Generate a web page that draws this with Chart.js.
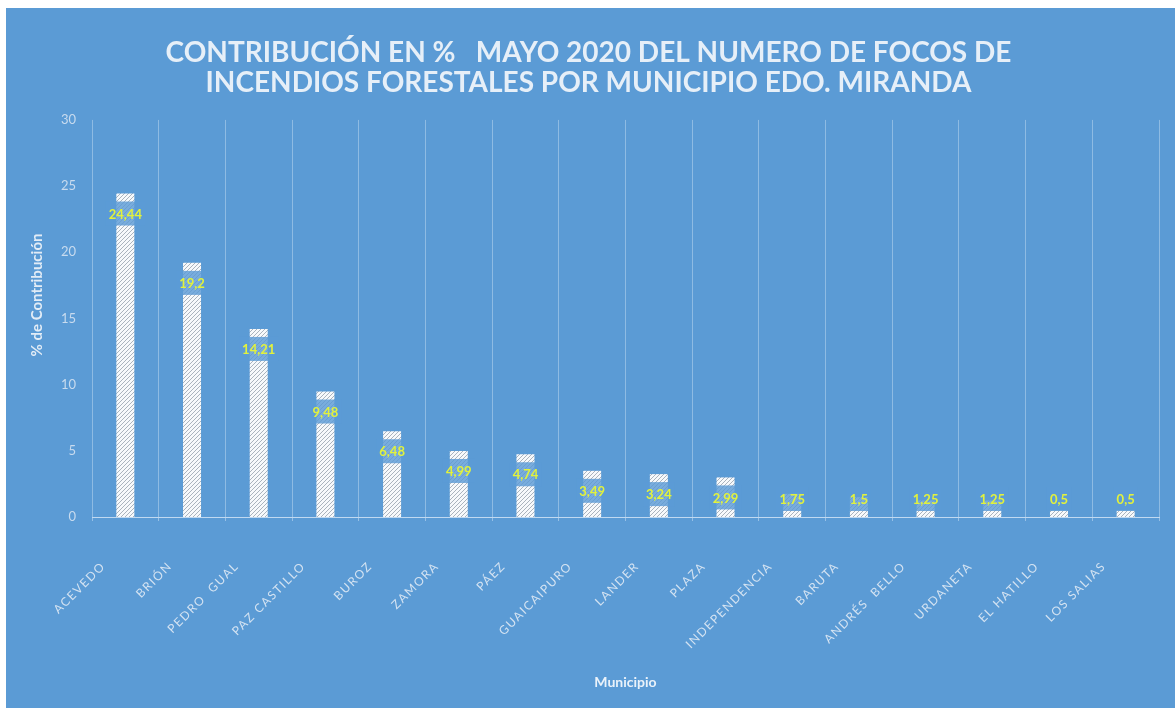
<!DOCTYPE html>
<html><head><meta charset="utf-8">
<script src="https://cdn.jsdelivr.net/npm/chart.js@4"></script>
<style>
html,body{margin:0;padding:0;background:#fff;width:1175px;height:708px;overflow:hidden}
#wrap{position:absolute;left:6px;top:8px;width:1169px;height:700px;background:#5B9BD5}
canvas{display:block}
</style></head><body>
<div id="wrap"><canvas id="c" width="1169" height="700"></canvas></div>
<script>
const municipios = ['ACEVEDO','BRIÓN','PEDRO  GUAL','PAZ CASTILLO','BUROZ','ZAMORA','PÁEZ','GUAICAIPURO','LANDER','PLAZA','INDEPENDENCIA','BARUTA','ANDRÉS  BELLO','URDANETA','EL HATILLO','LOS SALIAS'];
const contribucion = [24.44,19.2,14.21,9.48,6.48,4.99,4.74,3.49,3.24,2.99,1.75,1.5,1.25,1.25,0.5,0.5];
const valueLabels = ['24,44','19,2','14,21','9,48','6,48','4,99','4,74','3,49','3,24','2,99','1,75','1,5','1,25','1,25','0,5','0,5'];
const yTicks = [0,5,10,15,20,25,30];
const titleLines = ['CONTRIBUCIÓN EN %   MAYO 2020 DEL NUMERO DE FOCOS DE','INCENDIOS FORESTALES POR MUNICIPIO EDO. MIRANDA'];
const yTitle = '% de Contribución';
const xTitle = 'Municipio';

const FONT = 'Lato, "Open Sans", sans-serif';

function hatch() {
  const s = 4;
  const c = document.createElement('canvas');
  c.width = s; c.height = s;
  const g = c.getContext('2d');
  g.fillStyle = '#f7f9fb';
  g.fillRect(0, 0, s, s);
  g.strokeStyle = '#aab3bd';
  g.lineWidth = 1;
  g.beginPath();
  g.moveTo(0, s); g.lineTo(s, 0);
  g.moveTo(-1, 1); g.lineTo(1, -1);
  g.moveTo(s - 1, s + 1); g.lineTo(s + 1, s - 1);
  g.stroke();
  return g.createPattern(c, 'repeat');
}

const labelPlugin = {
  id: 'valueLabels',
  afterDatasetsDraw(chart) {
    const ctx = chart.ctx;
    const meta = chart.getDatasetMeta(0);
    const base = chart.scales.y.getPixelForValue(0);
    ctx.save();
    ctx.font = 'bold 13px ' + FONT;
    ctx.textAlign = 'center';
    ctx.textBaseline = 'middle';
    meta.data.forEach((el, i) => {
      const cy = Math.min(el.y + 20, base - 18);
      const txt = valueLabels[i];
      const w = Math.max(ctx.measureText(txt).width + 6, 24);
      ctx.fillStyle = 'rgba(91,155,213,0.82)';
      ctx.fillRect(el.x - w / 2, cy - 12, w, 24);
      ctx.fillStyle = '#e2f23c';
      ctx.fillText(txt, el.x, cy + 1);
    });
    ctx.restore();
  }
};

const yTitlePlugin = {
  id: 'yTitle',
  afterDraw(chart) {
    const ctx = chart.ctx;
    ctx.save();
    ctx.translate(31, 287);
    ctx.rotate(-Math.PI / 2);
    ctx.font = 'bold 15px ' + FONT;
    ctx.fillStyle = '#e2ecf6';
    ctx.textAlign = 'center';
    ctx.textBaseline = 'middle';
    ctx.fillText(yTitle, 0, 0);
    ctx.restore();
  }
};

const spacingPlugin = {
  id: 'tickSpacing',
  afterLayout(chart) {
    const sc = chart.scales.x;
    if (sc._patched) return;
    sc._patched = true;
    const orig = sc.drawLabels;
    sc.drawLabels = function (a) {
      const ctx = this.ctx;
      ctx.save();
      try { ctx.letterSpacing = '1.5px'; } catch (e) {}
      orig.call(this, a);
      ctx.restore();
    };
  }
};

new Chart(document.getElementById('c'), {
  type: 'bar',
  data: {
    labels: municipios,
    datasets: [{
      data: contribucion,
      backgroundColor: hatch(),
      borderWidth: 0,
      barPercentage: 0.27,
      categoryPercentage: 1.0
    }]
  },
  options: {
    responsive: false,
    animation: false,
    devicePixelRatio: 1,
    layout: { padding: { left: 12, right: 16, top: 0, bottom: 0 } },
    plugins: {
      legend: { display: false },
      tooltip: { enabled: false },
      title: {
        display: true,
        text: titleLines,
        color: '#e6eff8',
        font: { family: FONT, size: 28, weight: 'bold', lineHeight: 1.07 },
        padding: { top: 30, bottom: 22 }
      }
    },
    scales: {
      x: {
        offset: true,
        grid: { display: true, offset: true, color: 'rgba(225,238,250,0.38)', lineWidth: 1, drawTicks: true, tickLength: 4, tickColor: 'rgba(225,238,250,0.45)' },
        border: { display: true, color: 'rgba(225,238,250,0.75)', width: 1 },
        ticks: {
          color: '#d4e3f2',
          font: { family: FONT, size: 12 },
          minRotation: 45, maxRotation: 45,
          autoSkip: false,
          padding: 38,
          labelOffset: -22
        },
        title: {
          display: true, text: xTitle, color: '#eaf2fa',
          font: { family: FONT, size: 14, weight: 'bold' },
          padding: { top: 0, bottom: 17 }
        },
        afterFit(s) { s.height = 191; }
      },
      y: {
        min: 0, max: 30,
        afterBuildTicks(s) { s.ticks = yTicks.map(v => ({ value: v })); },
        grid: { display: false, drawTicks: false },
        border: { display: false },
        ticks: { color: '#c8dbef', font: { family: FONT, size: 13 }, padding: 16 },
        title: { display: false },
        afterFit(s) { s.width = 74; }
      }
    }
  },
  plugins: [labelPlugin, spacingPlugin, yTitlePlugin]
});
</script>
</body></html>
